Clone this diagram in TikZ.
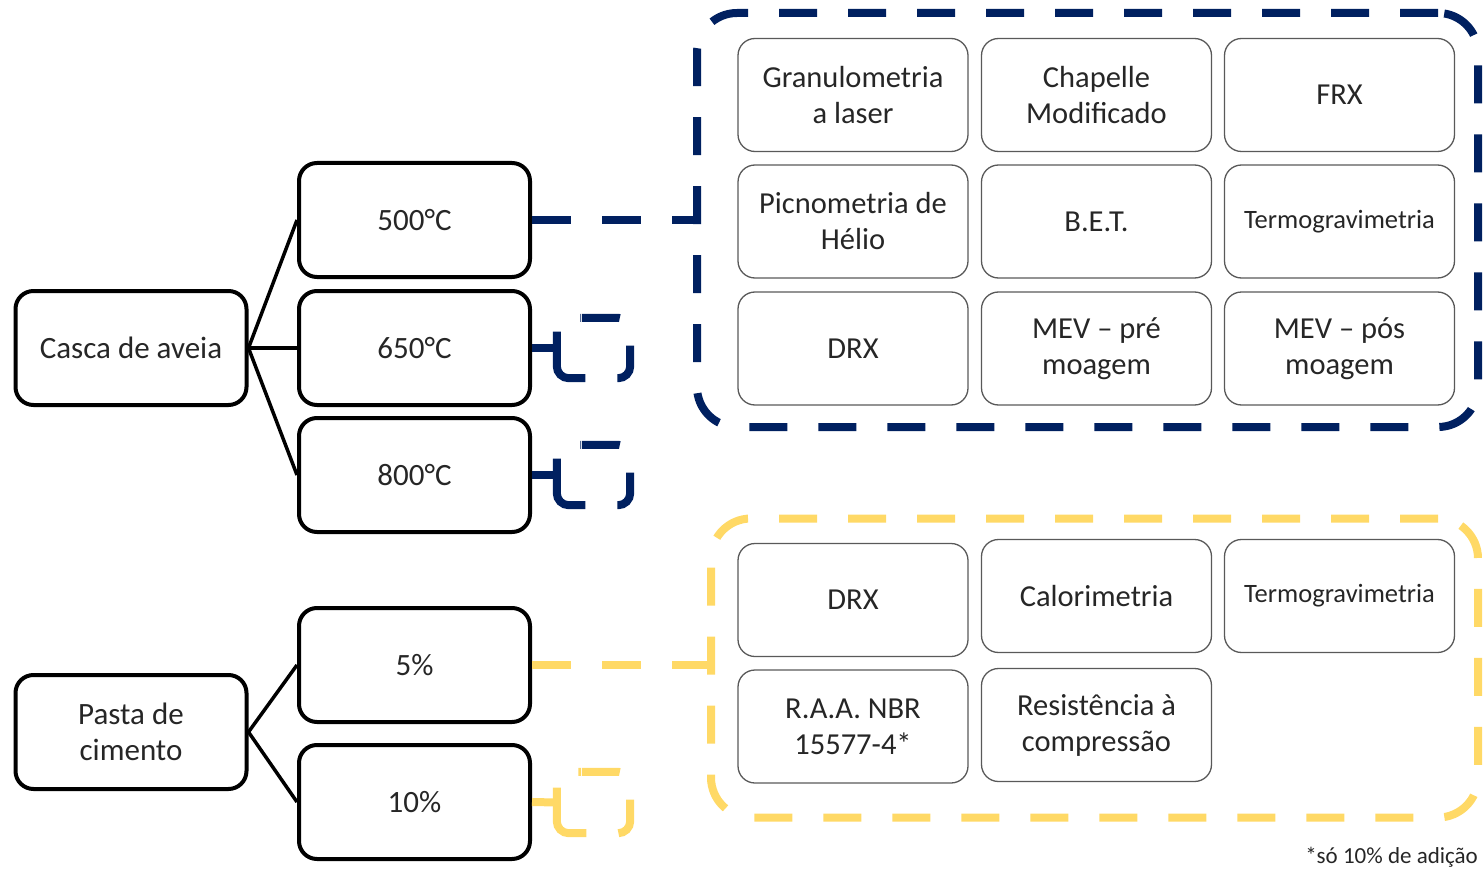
\documentclass[tikz,border=0pt]{standalone}
\usepackage{fontspec}
\setmainfont{Carlito}
\usepackage{tikz}
\definecolor{navy}{HTML}{002060}
\definecolor{gold}{HTML}{FFD966}
\definecolor{ink}{HTML}{262626}

\begin{document}
\begin{tikzpicture}[x=1pt,y=-1pt,
		mainbox/.style={draw=black, line width=4pt, rounded corners=18pt, minimum width=231pt, minimum height=114pt, align=center, text=ink, font=\fontsize{31}{36}\selectfont},
		testbox/.style={draw=black!65, line width=1.3pt, rounded corners=17pt, minimum width=230pt, minimum height=113pt, align=center, text=ink, font=\fontsize{30.5}{36}\selectfont},
		small/.style={font=\fontsize{26.5}{30}\selectfont},
		link/.style={line width=3.5pt},
		group/.style={line width=8pt, dash pattern=on 38pt off 31pt, rounded corners=40pt, inner sep=0pt},
		minigroup/.style={inner sep=0pt, minimum width=73pt, minimum height=60pt},
		miniline/.style={line width=8pt, rounded corners=12pt, dash pattern=on 38pt off 33pt on 40pt off 32pt on 70pt off 32pt}]
		\useasboundingbox (0,0) rectangle (1483,869);
		
		% left column
		\node[mainbox] (cas) at (131,348) {Casca de aveia};
		\node[mainbox] (t500) at (414.5,220) {500°C};
		\node[mainbox] (t650) at (414.5,348) {650°C};
		\node[mainbox] (t800) at (414.5,475) {800°C};
		\node[mainbox] (pasta) at (131,732) {Pasta de\\cimento};
		\node[mainbox] (p5) at (414.5,665) {5\%};
		\node[mainbox] (p10) at (414.5,802) {10\%};
		
		\draw[link] (cas.east) -- (t500.west);
		\draw[link] (cas.east) -- (t650.west);
		\draw[link] (cas.east) -- (t800.west);
		\draw[link] (pasta.east) -- (p5.west);
		\draw[link] (pasta.east) -- (p10.west);
		
		% ensaios da cinza
		\node[group, draw=navy, minimum width=781pt, minimum height=414pt] (bluegrp) at (1087.5,220) {};
		\node[testbox] (gran) at (853,95) {Granulometria\\a laser};
		\node[testbox] (chap) at (1096.5,95) {Chapelle\\Modificado};
		\node[testbox] (frx) at (1339.5,95) {FRX};
		\node[testbox] (picn) at (853,221.5) {Picnometria de\\Hélio};
		\node[testbox] (bet) at (1096.5,221.5) {B.E.T.};
		\node[testbox, small] (tga) at (1339.5,221.5) {Termogravimetria};
		\node[testbox] (drx) at (853,348.5) {DRX};
		\node[testbox] (mevpre) at (1096.5,348.5) {MEV -- pré\\moagem};
		\node[testbox] (mevpos) at (1339.5,348.5) {MEV -- pós\\moagem};
		
		\draw[navy, line width=8pt, dash pattern=on 39pt off 31pt] (t500.east) -- (t500.east -| bluegrp.west);
		
		\node[minigroup] (g650) at (593.5,348) {};
		\node[minigroup] (g800) at (593.5,475) {};
		\foreach \g in {g650, g800}
			\draw[miniline, navy] ([xshift=25pt]\g.north west) -- (\g.north east) -- (\g.south east) -- (\g.south west) -- (\g.north west) -- ([xshift=24pt]\g.north west);
		\draw[navy, line width=8pt] (t650.east) -- (g650.west);
		\draw[navy, line width=8pt] (t800.east) -- (g800.west);
		
		% ensaios da pasta
		\node[group, draw=gold, minimum width=767pt, minimum height=299pt] (goldgrp) at (1094.5,668) {};
		\node[testbox] (drxp) at (853,600) {DRX};
		\node[testbox] (calor) at (1096.5,596) {Calorimetria};
		\node[testbox, small] (tgap) at (1339.5,596) {Termogravimetria};
		\node[testbox] (raa) at (853,726.5) {R.A.A. NBR\\15577-4*};
		\node[testbox] (resist) at (1096.5,725) {Resistência à\\compressão};
		
		\draw[gold, line width=8pt, dash pattern=on 39pt off 31pt] (p5.east) -- (p5.east -| goldgrp.west);
		\node[minigroup, minimum height=61pt] (g10) at (593.5,802.5) {};
		\draw[miniline, gold] ([xshift=25pt]g10.north west) -- (g10.north east) -- (g10.south east) -- (g10.south west) -- (g10.north west) -- ([xshift=24pt]g10.north west);
		\draw[gold, line width=8pt] (p10.east) -- (g10.west);
		
		\node[anchor=east, inner sep=0pt, text=ink, font=\fontsize{23}{28}\selectfont] (nota) at (1478,857) {*só 10\% de adição};
	\end{tikzpicture}
\end{document}
